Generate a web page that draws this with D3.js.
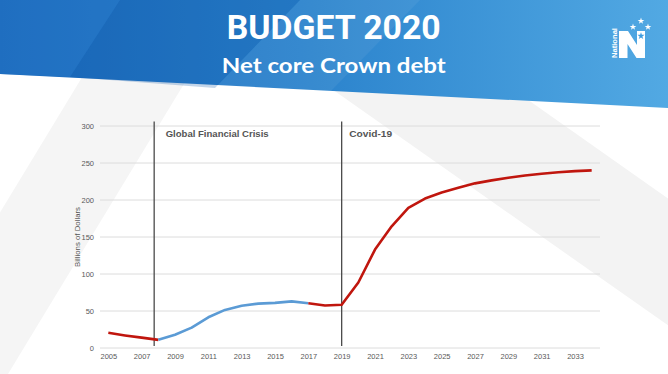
<!DOCTYPE html>
<html><head><meta charset="utf-8">
<script src="https://cdn.jsdelivr.net/npm/d3@7"></script>
<style>
html,body{margin:0;padding:0;background:#fff;}
svg{display:block;}
</style></head>
<body>
<svg id="chart" width="668" height="374"></svg>
<script>
// ---- data ----
const years = [2005,2006,2007,2008,2009,2010,2011,2012,2013,2014,2015,2016,2017,2018,2019,
               2020,2021,2022,2023,2024,2025,2026,2027,2028,2029,2030,2031,2032,2033,2034];
const debt  = [20.5,17,14,11,18,27.5,41.5,51.5,57,60,61,63,60.5,57.5,58.5,
               88.5,133,164.5,189.5,202,210,216.5,222.5,226.5,230,233,235.5,237.5,239,240];
const periodStart = [2005, 2008, 2017];
const periodEnd   = [2008, 2017, 2034];
const periodKind  = ["National", "Labour", "National"];
const yTicks = [0,50,100,150,200,250,300];
const xTickLabels = [2005,2007,2009,2011,2013,2015,2017,2019,2021,2023,2025,2027,2029,2031,2033];
const eventLabels = ["Global Financial Crisis", "Covid-19"];
const eventYears  = [2007.75, 2019];
const titleText = "BUDGET 2020";
const subtitleText = "Net core Crown debt";
const yAxisTitle = "Billions of Dollars";

// ---- drawing ----
const svg = d3.select("#chart");
const W = 668, H = 374;
const defs = svg.append("defs");
const grad = defs.append("linearGradient").attr("id","hdr").attr("x1","0").attr("x2","1").attr("y1","0").attr("y2","0");
grad.append("stop").attr("offset","0").attr("stop-color","#1a68bb");
grad.append("stop").attr("offset","0.45").attr("stop-color","#2a82cc");
grad.append("stop").attr("offset","1").attr("stop-color","#52a9e3");

svg.append("rect").attr("width",W).attr("height",H).attr("fill","#ffffff");
// light background bands
svg.append("polygon").attr("points","84,74 190,74 8,374 -98,374").attr("fill","#f5f5f5");
svg.append("polygon").attr("points","319,80 500,80 668,198.5 668,325.3").attr("fill","#f3f3f3");

// header
svg.append("polygon").attr("points","0,0 668,0 668,108 0,74").attr("fill","url(#hdr)");
svg.append("polygon").attr("points","120,0 300,0 215,88 70,77").attr("fill","#0f58a8").attr("opacity",0.25);
svg.append("polygon").attr("points","300,0 420,0 330,92 215,88").attr("fill","#ffffff").attr("opacity",0.06);
svg.append("polygon").attr("points","0,0 120,0 70,77 0,74").attr("fill","#2a7ccc").attr("opacity",0.35);

svg.append("text").attr("x",333.7).attr("y",39.3).attr("text-anchor","middle")
  .attr("font-family","'Liberation Sans Narrow','Roboto','Liberation Sans',sans-serif")
  .attr("font-weight","bold").attr("font-size",34).attr("fill","#fff")
  .attr("textLength",214).attr("lengthAdjust","spacingAndGlyphs").text(titleText);
svg.append("text").attr("x",333.8).attr("y",72.7).attr("text-anchor","middle")
  .attr("font-family","Lato,'Open Sans',sans-serif")
  .attr("font-weight","bold").attr("font-size",21).attr("fill","#fff")
  .attr("textLength",224).attr("lengthAdjust","spacingAndGlyphs").text(subtitleText);

// logo
const logo = svg.append("g");
logo.append("path").attr("d","M619,58 L619,31 L628,31 L637,45 L637,31 L645,31 L645,58 L636.5,58 L627.5,44 L627.5,58 Z").attr("fill","#fff");
logo.append("text").attr("transform","translate(616.5,58) rotate(-90)")
  .attr("font-family","'Liberation Sans',sans-serif").attr("font-weight","bold").attr("font-size",6.5)
  .attr("fill","#fff").attr("textLength",30).attr("lengthAdjust","spacingAndGlyphs").text("National");
const star = d3.symbol().type(d3.symbolStar).size(14);
[[633,27],[641,21],[648,27]].forEach(p=>{
  logo.append("path").attr("d",star()).attr("transform",`translate(${p[0]},${p[1]})`).attr("fill","#fff");
});
logo.append("path").attr("d",d3.symbol().type(d3.symbolStar).size(16)()).attr("transform","translate(641,36)").attr("fill","#3f9de0");

// scales
const x = d3.scaleLinear().domain([2004.5, 2034.5]).range([100, 600]);
const y = d3.scaleLinear().domain([0, 300]).range([348, 126]);

// gridlines
svg.append("g").selectAll("line").data(yTicks).join("line")
  .attr("x1",x.range()[0]).attr("x2",x.range()[1])
  .attr("y1",d=>y(d)).attr("y2",d=>y(d))
  .attr("stroke","#dcdcdc").attr("stroke-width",1);

// axes
const yAxis = svg.append("g").attr("transform",`translate(${x.range()[0]},0)`)
  .call(d3.axisLeft(y).tickValues(yTicks).tickSize(0).tickPadding(6));
yAxis.select(".domain").remove();
yAxis.selectAll("text").attr("font-family","'Liberation Sans',sans-serif").attr("font-size",7.5).attr("fill","#595959");

const xAxis = svg.append("g").attr("transform",`translate(0,${y(0)})`)
  .call(d3.axisBottom(x).tickValues(xTickLabels).tickFormat(d3.format("d")).tickSize(0).tickPadding(6));
xAxis.select(".domain").remove();
xAxis.selectAll("text").attr("font-family","'Liberation Sans',sans-serif").attr("font-size",7.5).attr("fill","#595959");

svg.append("text").attr("transform","translate(77,237) rotate(-90)").attr("text-anchor","middle")
  .attr("font-family","'Liberation Sans',sans-serif").attr("font-size",7.5).attr("fill","#555")
  .attr("dy","0.35em").attr("textLength",60).attr("lengthAdjust","spacingAndGlyphs").text(yAxisTitle);

// event lines
const labelDx = [11.5, 7.5];
const labelW = [103, 43];
eventYears.forEach((yr,i)=>{
  svg.append("line").attr("x1",x(yr)).attr("x2",x(yr)).attr("y1",121.5).attr("y2",346)
    .attr("stroke","#4a4a4a").attr("stroke-width",1.3);
});

// data lines
const pts = years.map((yr,i)=>({year:yr, value:debt[i]}));
const line = d3.line().x(d=>x(d.year)).y(d=>y(d.value));
const colorFor = {National:"#c0160e", Labour:"#5b9bd5"};
periodStart.forEach((s,i)=>{
  const seg = pts.filter(p=>p.year>=s && p.year<=periodEnd[i]);
  svg.append("path").datum(seg).attr("d",line).attr("fill","none")
    .attr("stroke",colorFor[periodKind[i]]).attr("stroke-width",2.6)
    .attr("stroke-linejoin","round").attr("stroke-linecap","butt");
});

eventYears.forEach((yr,i)=>{
  svg.append("text").attr("x",x(yr)+labelDx[i]).attr("y",137.3)
    .attr("font-family","'Liberation Sans',sans-serif").attr("font-weight","bold")
    .attr("font-size",9.5).attr("fill","#555")
    .attr("textLength",labelW[i]).attr("lengthAdjust","spacingAndGlyphs").text(eventLabels[i]);
});
</script>
</body></html>
